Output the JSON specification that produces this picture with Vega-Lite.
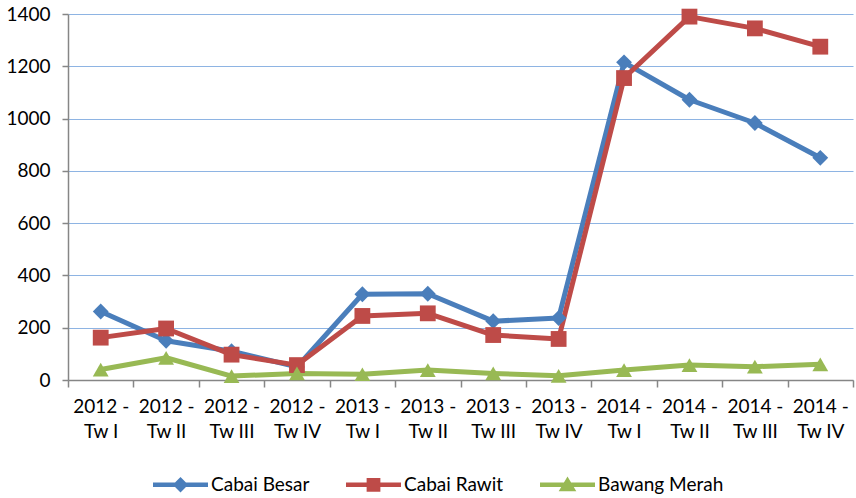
{
  "$schema": "https://vega.github.io/schema/vega-lite/v6.json",
  "width": 785,
  "height": 366,
  "autosize": "none",
  "padding": {"left": 68, "top": 14, "right": 3, "bottom": 118},
  "background": "white",
  "config": {
    "view": {"stroke": null},
    "font": "Lato",
    "axis": {"labelFont": "Lato", "labelFontSize": 19, "labelColor": "#000000"}
  },
  "data": {
    "values": [
      {"period": "2012 - Tw I", "series": "Cabai Besar", "value": 262},
      {"period": "2012 - Tw II", "series": "Cabai Besar", "value": 150},
      {"period": "2012 - Tw III", "series": "Cabai Besar", "value": 110},
      {"period": "2012 - Tw IV", "series": "Cabai Besar", "value": 50},
      {"period": "2013 - Tw I", "series": "Cabai Besar", "value": 328},
      {"period": "2013 - Tw II", "series": "Cabai Besar", "value": 330},
      {"period": "2013 - Tw III", "series": "Cabai Besar", "value": 225},
      {"period": "2013 - Tw IV", "series": "Cabai Besar", "value": 237},
      {"period": "2014 - Tw I", "series": "Cabai Besar", "value": 1215},
      {"period": "2014 - Tw II", "series": "Cabai Besar", "value": 1072},
      {"period": "2014 - Tw III", "series": "Cabai Besar", "value": 983},
      {"period": "2014 - Tw IV", "series": "Cabai Besar", "value": 850},
      {"period": "2012 - Tw I", "series": "Cabai Rawit", "value": 162},
      {"period": "2012 - Tw II", "series": "Cabai Rawit", "value": 197},
      {"period": "2012 - Tw III", "series": "Cabai Rawit", "value": 97},
      {"period": "2012 - Tw IV", "series": "Cabai Rawit", "value": 57},
      {"period": "2013 - Tw I", "series": "Cabai Rawit", "value": 245},
      {"period": "2013 - Tw II", "series": "Cabai Rawit", "value": 255},
      {"period": "2013 - Tw III", "series": "Cabai Rawit", "value": 172},
      {"period": "2013 - Tw IV", "series": "Cabai Rawit", "value": 157},
      {"period": "2014 - Tw I", "series": "Cabai Rawit", "value": 1155},
      {"period": "2014 - Tw II", "series": "Cabai Rawit", "value": 1390},
      {"period": "2014 - Tw III", "series": "Cabai Rawit", "value": 1345},
      {"period": "2014 - Tw IV", "series": "Cabai Rawit", "value": 1275},
      {"period": "2012 - Tw I", "series": "Bawang Merah", "value": 40},
      {"period": "2012 - Tw II", "series": "Bawang Merah", "value": 85},
      {"period": "2012 - Tw III", "series": "Bawang Merah", "value": 15},
      {"period": "2012 - Tw IV", "series": "Bawang Merah", "value": 25},
      {"period": "2013 - Tw I", "series": "Bawang Merah", "value": 22},
      {"period": "2013 - Tw II", "series": "Bawang Merah", "value": 38},
      {"period": "2013 - Tw III", "series": "Bawang Merah", "value": 25},
      {"period": "2013 - Tw IV", "series": "Bawang Merah", "value": 16},
      {"period": "2014 - Tw I", "series": "Bawang Merah", "value": 38},
      {"period": "2014 - Tw II", "series": "Bawang Merah", "value": 57},
      {"period": "2014 - Tw III", "series": "Bawang Merah", "value": 51},
      {"period": "2014 - Tw IV", "series": "Bawang Merah", "value": 60}
    ]
  },
  "encoding": {
    "x": {
      "field": "period",
      "type": "nominal",
      "sort": null,
      "scale": {"type": "band", "paddingInner": 0, "paddingOuter": 0},
      "axis": {
        "title": null,
        "labelAngle": 0,
        "tickBand": "extent",
        "labelExpr": "[slice(datum.label, 0, 6), slice(datum.label, 7)]",
        "labelLineHeight": 25,
        "labelPadding": 10,
        "tickSize": 7,
        "tickColor": "#868686",
        "domainColor": "#868686",
        "domainWidth": 1.5,
        "tickWidth": 1.5,
        "grid": false
      }
    },
    "y": {
      "field": "value",
      "type": "quantitative",
      "scale": {"domain": [0, 1400], "nice": false},
      "axis": {
        "title": null,
        "format": "d",
        "values": [0, 200, 400, 600, 800, 1000, 1200, 1400],
        "grid": true,
        "gridColor": "#8EB4E3",
        "gridWidth": 1,
        "tickSize": 6,
        "tickColor": "#868686",
        "tickWidth": 1.5,
        "domainColor": "#868686",
        "domainWidth": 1.5,
        "labelPadding": 12
      }
    }
  },
  "layer": [
    {
      "mark": {"type": "line", "strokeWidth": 5, "strokeJoin": "round"},
      "encoding": {
        "color": {
          "field": "series",
          "type": "nominal",
          "scale": {
            "domain": ["Cabai Besar", "Cabai Rawit", "Bawang Merah"],
            "range": ["#4A7EBB", "#BE4B48", "#98B954"]
          },
          "legend": {
            "title": null,
            "orient": "none",
            "direction": "horizontal",
            "legendX": 85,
            "legendY": 443,
            "symbolSize": 3025,
            "symbolType": "square",
            "symbolStrokeWidth": 0,
            "symbolOpacity": 1,
            "labelFont": "Lato",
            "labelFontSize": 19,
            "labelColor": "#000000",
            "labelOffset": 3,
            "columnPadding": 36,
            "encode": {
              "symbols": {
                "update": {
                  "fill": {"scale": "color", "field": "value"},
                  "strokeWidth": {"value": 0},
                  "shape": {
                    "signal": "datum.value === 'Cabai Besar' ? 'M-1,-0.08H1V0.08H-1Z M0,-0.28L0.28,0L0,0.28L-0.28,0Z' : datum.value === 'Cabai Rawit' ? 'M-1,-0.08H1V0.08H-1Z M-0.25,-0.25H0.25V0.25H-0.25Z' : 'M-1,-0.08H1V0.08H-1Z M0,-0.3L0.32,0.24H-0.32Z'"
                  }
                }
              }
            }
          }
        }
      }
    },
    {
      "mark": {"type": "point", "filled": true, "opacity": 1, "size": 250},
      "encoding": {
        "shape": {
          "condition": [
            {"test": "datum.series === 'Cabai Besar'", "value": "diamond"},
            {"test": "datum.series === 'Cabai Rawit'", "value": "square"}
          ],
          "value": "triangle-up"
        },
        "color": {"field": "series", "type": "nominal", "legend": null}
      }
    }
  ]
}
